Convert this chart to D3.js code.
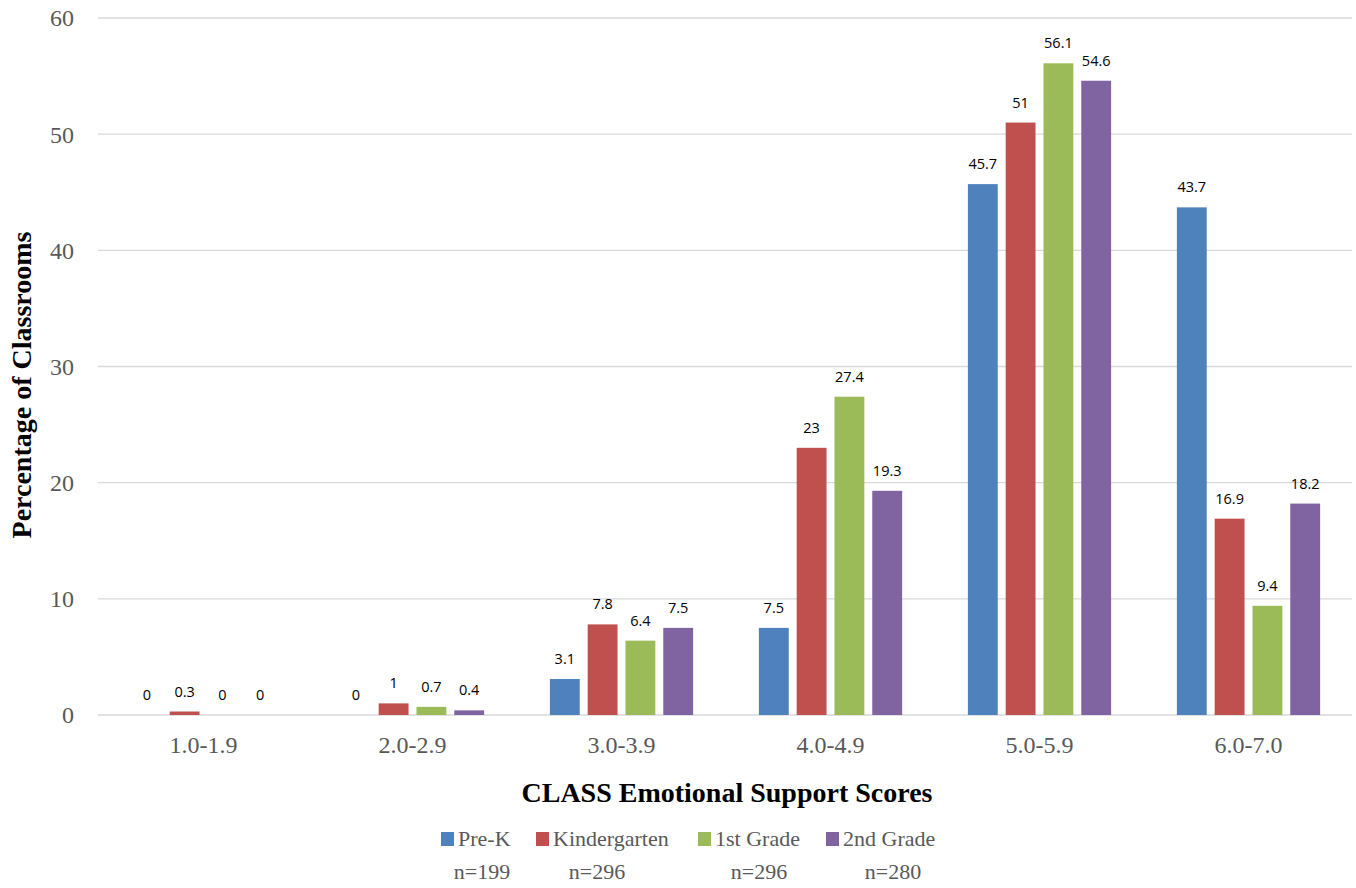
<!DOCTYPE html>
<html><head><meta charset="utf-8">
<script src="https://cdn.jsdelivr.net/npm/d3@7"></script>
<style>body{margin:0;background:#fff}</style>
</head><body><svg id="c" width="1356" height="888"></svg>
<script>
const categories = ["1.0-1.9","2.0-2.9","3.0-3.9","4.0-4.9","5.0-5.9","6.0-7.0"];
const seriesNames = ["Pre-K","Kindergarten","1st Grade","2nd Grade"];
const seriesN = ["n=199","n=296","n=296","n=280"];
const preK = [0,0,3.1,7.5,45.7,43.7];
const kinder = [0.3,1,7.8,23,51,16.9];
const first = [0,0.7,6.4,27.4,56.1,9.4];
const second = [0,0.4,7.5,19.3,54.6,18.2];
const yTicks = [0,10,20,30,40,50,60];
const colors = ["#4F81BD","#C0504D","#9BBB59","#8064A2"];
const values = [preK,kinder,first,second];

const svg = d3.select("#c");
const serif = "'Liberation Serif', 'DejaVu Serif', serif";
const sans = "'Open Sans', 'Liberation Sans', sans-serif";
const x = d3.scaleBand().domain(categories).range([99,1353]).paddingInner(0).paddingOuter(0);
const xs = d3.scaleBand().domain(d3.range(4)).range([0,x.bandwidth()]).paddingInner(0.21).paddingOuter(0.87);
const y = d3.scaleLinear().domain([0,60]).range([715,18]);

// grid
svg.append("g").selectAll("line").data(yTicks).join("line")
  .attr("x1",98).attr("x2",1352).attr("y1",d=>y(d)).attr("y2",d=>y(d))
  .attr("stroke","#d9d9d9").attr("stroke-width",1.4);
// y tick labels
svg.append("g").selectAll("text").data(yTicks).join("text")
  .attr("x",74).attr("y",d=>y(d)).attr("dy","0.35em").attr("text-anchor","end")
  .attr("font-family",serif).attr("font-size",24).attr("fill","#595959").text(d=>d);
// bars
const g = svg.append("g");
values.forEach((vals,si)=>{
  const sg = g.append("g");
  sg.selectAll("rect").data(categories).join("rect")
    .attr("x",(c)=>x(c)+xs(si)).attr("width",xs.bandwidth())
    .attr("y",(c,i)=>y(vals[i])).attr("height",(c,i)=>y(0)-y(vals[i]))
    .attr("fill",colors[si]);
  sg.selectAll("text").data(categories).join("text")
    .attr("x",(c)=>x(c)+xs(si)+xs.bandwidth()/2).attr("y",(c,i)=>y(vals[i])-15)
    .attr("text-anchor","middle").attr("font-family",sans).attr("font-size",14.5).attr("fill","#000")
    .text((c,i)=>vals[i]);
});
// x tick labels
svg.append("g").selectAll("text").data(categories).join("text")
  .attr("x",c=>x(c)+x.bandwidth()/2).attr("y",753).attr("text-anchor","middle")
  .attr("font-family",serif).attr("font-size",24).attr("fill","#595959").text(c=>c);
// axis titles
svg.append("text").attr("x",727).attr("y",802).attr("text-anchor","middle")
  .attr("font-family",serif).attr("font-weight","bold").attr("font-size",28).attr("fill","#000")
  .text("CLASS Emotional Support Scores");
svg.append("text").attr("transform","translate(31,385) rotate(-90)").attr("text-anchor","middle")
  .attr("font-family",serif).attr("font-weight","bold").attr("font-size",28).attr("fill","#000")
  .text("Percentage of Classrooms");
// legend
const legX = [441,536,698,826];
const nX = [482,597,759,893];
const lg = svg.append("g");
seriesNames.forEach((s,i)=>{
  lg.append("rect").attr("x",legX[i]).attr("y",832).attr("width",13).attr("height",14).attr("fill",colors[i]);
  lg.append("text").attr("x",legX[i]+17).attr("y",846).attr("font-family",serif).attr("font-size",22)
    .attr("fill","#595959").text(s);
  lg.append("text").attr("x",nX[i]).attr("y",879).attr("text-anchor","middle").attr("font-family",serif).attr("font-size",22)
    .attr("fill","#595959").text(seriesN[i]);
});
</script></body></html>
